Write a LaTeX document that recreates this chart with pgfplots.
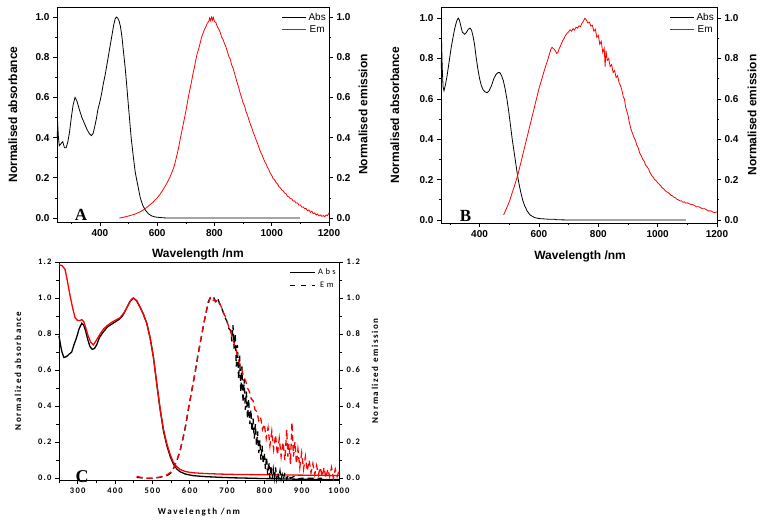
\documentclass[border=0pt]{standalone}
\usepackage{pgfplots}
\usepackage{pgfplotstable}
\pgfplotsset{compat=1.18}
\usepackage{fontspec}
\setmainfont{Liberation Sans}
\newfontfamily\serifb{Liberation Serif}
\newfontfamily\calfont[LetterSpace=18]{Carlito}
\newfontfamily\caltick[LetterSpace=15]{Carlito}
\newfontfamily\callegend[LetterSpace=30]{Carlito}

% ---------------- Panel A ----------------
\pgfplotstableread{
x y
251 0.40
252 0.48
255 0.40
258 0.36
264 0.37
270 0.38
276 0.35
282 0.35
288 0.38
294 0.43
300 0.50
306 0.56
313 0.60
320 0.58
328 0.54
337 0.50
346 0.47
355 0.44
363 0.42
370 0.41
376 0.42
381 0.45
387 0.49
393 0.54
400 0.58
406 0.62
412 0.67
418 0.71
424 0.76
430 0.81
436 0.86
442 0.91
448 0.96
453 0.99
457 1.00
462 0.995
467 0.98
472 0.95
477 0.90
482 0.83
488 0.75
493 0.67
497 0.60
503 0.50
509 0.40
517 0.30
523 0.23
527 0.20
534 0.15
541 0.10
549 0.065
558 0.040
570 0.020
581 0.010
593 0.005
605 0.003
620 0.001
633 0.000
700 0.000
800 0.000
900 0.000
1000 0.000
1098 0.000
}\absA
\pgfplotstableread{
x y
468 0.000
480 0.003
500 0.010
520 0.018
540 0.030
555 0.043
570 0.060
585 0.078
600 0.100
610 0.118
620 0.140
630 0.163
640 0.190
645 0.205
650 0.222
655 0.240
660 0.262
665 0.290
670 0.320
675 0.352
680 0.390
685 0.425
690 0.460
695 0.495
700 0.530
705 0.570
710 0.610
715 0.645
720 0.680
725 0.718
730 0.750
735 0.788
740 0.820
745 0.842
750 0.870
755 0.900
760 0.918
765 0.938
770 0.952
775 0.970
780 0.978
783 0.995
786 0.982
790 1.000
793 0.985
796 0.998
800 0.978
805 0.972
810 0.952
815 0.940
820 0.925
825 0.900
830 0.888
835 0.868
840 0.852
845 0.828
850 0.805
855 0.790
860 0.762
865 0.745
870 0.720
875 0.695
880 0.670
885 0.648
890 0.620
895 0.598
900 0.572
905 0.558
910 0.530
915 0.512
920 0.490
925 0.468
930 0.450
935 0.428
940 0.410
945 0.390
950 0.372
955 0.352
960 0.332
965 0.318
970 0.300
975 0.282
980 0.270
985 0.252
990 0.240
995 0.222
1000 0.212
1005 0.196
1010 0.190
1015 0.176
1020 0.170
1025 0.156
1030 0.150
1035 0.140
1040 0.135
1045 0.124
1050 0.120
1055 0.108
1060 0.105
1065 0.096
1070 0.095
1075 0.084
1080 0.085
1085 0.074
1090 0.075
1095 0.064
1100 0.065
1105 0.054
1110 0.055
1115 0.046
1120 0.047
1125 0.036
1130 0.040
1135 0.028
1140 0.034
1145 0.022
1150 0.025
1155 0.015
1160 0.020
1165 0.010
1170 0.015
1175 0.008
1180 0.012
1185 0.006
1190 0.015
1195 0.012
1200 0.025
}\emA

% ---------------- Panel B ----------------
\pgfplotstableread{
x y
271 0.75
272 0.88
274 0.76
277 0.66
280 0.64
285 0.67
290 0.71
295 0.76
300 0.81
305 0.86
310 0.90
315 0.94
320 0.97
324 0.99
328 1.00
332 0.99
337 0.96
342 0.93
350 0.92
356 0.93
362 0.945
368 0.95
373 0.94
378 0.91
383 0.87
388 0.81
394 0.75
400 0.70
406 0.665
412 0.645
418 0.635
425 0.63
432 0.64
440 0.665
448 0.70
455 0.72
462 0.73
468 0.73
474 0.715
480 0.69
486 0.65
492 0.60
498 0.54
504 0.47
510 0.40
516 0.34
522 0.28
528 0.22
534 0.17
540 0.13
546 0.095
552 0.07
560 0.045
570 0.025
585 0.012
600 0.007
630 0.004
655 0.003
660 0.001
700 0.000
800 0.000
900 0.000
1000 0.000
1095 0.000
}\absB
\pgfplotstableread{
x y
481 0.025
490 0.055
500 0.090
510 0.135
520 0.180
530 0.230
540 0.290
550 0.350
560 0.410
570 0.470
580 0.530
590 0.590
600 0.650
610 0.700
620 0.750
630 0.795
636 0.825
640 0.845
644 0.855
648 0.850
652 0.845
656 0.835
660 0.825
664 0.830
668 0.848
672 0.860
676 0.875
680 0.888
685 0.900
690 0.915
695 0.925
700 0.932
705 0.942
710 0.935
715 0.948
720 0.940
725 0.955
730 0.950
735 0.962
740 0.958
745 0.975
750 0.985
755 1.000
760 0.990
765 0.975
770 0.980
775 0.960
780 0.965
785 0.935
790 0.945
795 0.905
800 0.915
805 0.870
810 0.885
815 0.830
820 0.850
823 0.760
826 0.840
830 0.790
835 0.800
840 0.760
845 0.770
850 0.730
855 0.740
860 0.705
865 0.715
870 0.680
875 0.665
880 0.640
884 0.610
888 0.600
892 0.560
896 0.540
900 0.520
905 0.480
910 0.450
915 0.430
920 0.410
925 0.395
930 0.370
935 0.355
940 0.330
945 0.318
950 0.300
955 0.290
960 0.270
965 0.262
970 0.250
975 0.232
980 0.220
985 0.212
990 0.200
995 0.194
1000 0.185
1005 0.178
1010 0.170
1015 0.160
1020 0.155
1025 0.146
1030 0.140
1035 0.136
1040 0.130
1045 0.122
1050 0.120
1055 0.112
1060 0.110
1065 0.102
1070 0.100
1075 0.094
1080 0.095
1085 0.088
1090 0.090
1095 0.083
1100 0.085
1110 0.078
1120 0.075
1130 0.066
1140 0.065
1150 0.056
1160 0.055
1170 0.045
1180 0.045
1190 0.036
1200 0.040
}\emB

% ---------------- Panel C ----------------
\pgfplotstableread{
x y
250 0.79
254 0.74
258 0.70
263 0.67
270 0.675
278 0.69
284 0.70
290 0.74
297 0.78
304 0.83
311 0.86
316 0.85
321 0.82
327 0.77
333 0.73
339 0.715
345 0.72
351 0.74
358 0.78
368 0.81
380 0.84
395 0.86
410 0.88
420 0.90
430 0.94
440 0.98
449 1.00
458 0.985
467 0.95
476 0.91
485 0.86
494 0.78
503 0.67
512 0.52
521 0.38
530 0.26
539 0.18
548 0.12
556 0.08
565 0.052
575 0.035
590 0.022
610 0.014
640 0.009
680 0.005
720 0.002
760 0.000
800 -0.002
850 -0.004
900 -0.006
950 -0.007
1000 -0.008
}\absCk
\pgfplotstableread{
x y
250 1.185
258 1.18
266 1.16
272 1.10
279 1.02
286 0.95
293 0.89
300 0.875
306 0.875
311 0.88
316 0.87
321 0.84
328 0.79
335 0.755
342 0.74
350 0.765
360 0.80
370 0.83
381 0.85
395 0.87
413 0.89
425 0.92
435 0.96
443 0.99
449 1.00
458 0.985
467 0.95
476 0.91
485 0.86
494 0.78
503 0.67
512 0.525
521 0.385
530 0.27
539 0.19
548 0.13
556 0.09
565 0.065
575 0.048
590 0.036
610 0.030
640 0.026
680 0.023
720 0.021
800 0.019
900 0.017
1000 0.015
}\absCr
\pgfplotstableread{
x y
458 0.005
480 0.000
500 0.000
520 0.005
540 0.015
550 0.030
558 0.060
566 0.100
574 0.150
582 0.220
590 0.300
598 0.400
606 0.490
614 0.580
622 0.680
630 0.770
638 0.860
645 0.930
650 0.980
655 1.000
660 0.990
665 1.000
670 0.980
675 1.000
680 0.970
685 0.950
690 0.920
695 0.890
700 0.870
705 0.830
710 0.820
713 0.760
716 0.850
719 0.720
722 0.800
725 0.620
728 0.740
731 0.550
734 0.680
737 0.480
740 0.620
743 0.420
746 0.550
749 0.380
752 0.480
755 0.330
758 0.440
761 0.300
764 0.380
767 0.260
770 0.330
773 0.220
776 0.300
779 0.180
782 0.260
785 0.140
788 0.210
791 0.100
794 0.180
797 0.080
800 0.140
803 0.050
806 0.120
809 0.020
812 0.090
815 0.000
818 0.070
821 -0.005
824 0.050
827 0.000
830 0.060
833 -0.005
836 0.030
839 0.000
842 0.040
845 -0.005
848 0.020
851 -0.005
855 0.030
860 -0.005
865 0.020
870 0.000
880 0.010
890 -0.005
900 0.000
920 0.000
940 0.000
955 0.000
}\emCk
\pgfplotstableread{
x y
458 0.010
480 0.000
500 0.000
520 0.005
540 0.020
550 0.035
558 0.060
566 0.100
574 0.150
582 0.220
590 0.300
598 0.400
606 0.490
614 0.580
622 0.680
630 0.770
638 0.860
645 0.930
650 0.970
655 1.000
660 0.980
665 0.990
670 0.980
675 0.990
680 0.970
685 0.950
690 0.920
695 0.900
700 0.870
705 0.840
710 0.810
715 0.780
720 0.740
725 0.710
730 0.660
735 0.630
740 0.600
745 0.560
750 0.540
755 0.500
760 0.480
765 0.440
770 0.430
775 0.380
780 0.370
785 0.320
790 0.340
795 0.270
800 0.300
805 0.220
810 0.280
815 0.180
820 0.260
825 0.160
830 0.240
835 0.130
840 0.220
845 0.120
850 0.200
855 0.100
860 0.270
863 0.120
866 0.190
870 0.080
874 0.310
878 0.120
882 0.200
886 0.080
890 0.160
895 0.060
900 0.140
905 0.050
910 0.120
915 0.040
920 0.100
925 0.030
930 0.080
935 0.020
940 0.070
945 0.020
950 0.060
955 0.010
960 0.060
965 0.000
970 0.050
975 0.010
980 0.060
985 0.000
990 0.050
995 0.010
1000 0.040
}\emCr

\pgfplotsset{
  base/.style={
    scale only axis, anchor=south west, clip=false,
    tick align=outside,
    major tick length=4pt, minor tick length=2.2pt,
    every tick/.style={black, line width=0.6pt},
    axis line style={line width=0.7pt},
    /pgf/number format/assume math mode=true,
    yticklabel={\bfseries\pgfmathprintnumber[fixed,fixed zerofill,precision=1,assume math mode=true]{\tick}},
    xticklabel={\bfseries\pgfmathprintnumber[fixed,precision=0,1000 sep={},assume math mode=true]{\tick}},
  },
  ab/.style={
    base,
    xtick={400,600,800,1000,1200},
    minor xtick={300,500,700,900,1100},
    ytick={0,0.2,0.4,0.6,0.8,1.0},
    minor ytick={0.1,0.3,0.5,0.7,0.9},
    tick label style={font=\bfseries\fontsize{10}{12}\selectfont},
    label style={font=\bfseries\fontsize{12}{14}\selectfont},
    legend style={draw=none, fill=none, font=\fontsize{10}{11}\selectfont,
      at={(1,0.985)}, anchor=north east, inner sep=1pt, row sep=-0.5pt},
    legend image code/.code={\draw[#1] (0pt,0pt) -- (24pt,0pt);},
  },
  cc/.style={
    base,
    xtick={300,400,500,600,700,800,900,1000},
    minor xtick={250,350,450,550,650,750,850,950},
    ytick={0,0.2,0.4,0.6,0.8,1.0,1.2},
    minor ytick={0.1,0.3,0.5,0.7,0.9,1.1},
    minor tick length=3pt,
    tick label style={font=\caltick\bfseries\fontsize{8.5}{10}\selectfont},
    label style={font=\calfont\bfseries\fontsize{9}{11}\selectfont},
    legend style={draw=none, fill=none, font=\callegend\fontsize{8.5}{10}\selectfont,
      at={(1,0.985)}, anchor=north east, inner sep=1pt, row sep=2pt},
    legend image code/.code={\draw[#1] (0pt,0pt) -- (25pt,0pt);},
  },
}

\begin{document}
\begin{tikzpicture}[x=1pt,y=1pt]
\useasboundingbox (0,0) rectangle (763,525);

% ===== Panel A =====
\begin{axis}[ab, at={(57pt,303pt)}, width=272pt, height=215pt,
  xmin=250, xmax=1200, ymin=-0.02, ymax=1.05,
  xtick pos=bottom, ytick pos=left,
  xlabel={Wavelength /nm}, ylabel={Normalised absorbance},
  xlabel style={at={(axis description cs:0.518,-0.153)}, anchor=center},
  ylabel style={at={(axis description cs:-0.162,0.5)}, anchor=center}]
\addplot[black, line width=0.8pt] table[x=x,y=y] {\absA};
\node[font=\serifb\bfseries\fontsize{17}{17}\selectfont, anchor=base] at (axis cs:334,-0.015) {A};
\end{axis}
\begin{axis}[ab, at={(57pt,303pt)}, width=272pt, height=215pt,
  xmin=250, xmax=1200, ymin=-0.02, ymax=1.05,
  axis x line=none, axis y line*=right, ytick pos=right,
  ylabel={Normalised emission},
  ylabel style={at={(axis description cs:1.125,0.5)}, anchor=center, rotate=0}]
\addlegendimage{black, line width=0.8pt}
\addlegendentry{Abs}
\addplot[red, line width=0.8pt] table[x=x,y=y] {\emA};
\addlegendentry{Em}
\end{axis}

% ===== Panel B =====
\begin{axis}[ab, at={(441pt,302pt)}, width=276pt, height=216pt,
  xmin=270, xmax=1200, ymin=-0.015, ymax=1.055,
  xtick pos=bottom, ytick pos=left,
  xlabel={Wavelength /nm}, ylabel={Normalised absorbance},
  xlabel style={at={(axis description cs:0.504,-0.153)}, anchor=center},
  ylabel style={at={(axis description cs:-0.167,0.5)}, anchor=center}]
\addplot[black, line width=0.8pt] table[x=x,y=y] {\absB};
\node[font=\serifb\bfseries\fontsize{17}{17}\selectfont, anchor=base] at (axis cs:353,-0.01) {B};
\end{axis}
\begin{axis}[ab, at={(441pt,302pt)}, width=276pt, height=216pt,
  xmin=270, xmax=1200, ymin=-0.015, ymax=1.055,
  axis x line=none, axis y line*=right, ytick pos=right,
  ylabel={Normalised emission},
  ylabel style={at={(axis description cs:1.127,0.5)}, anchor=center}]
\addlegendimage{black, line width=0.8pt}
\addlegendentry{Abs}
\addplot[red, line width=0.8pt] table[x=x,y=y] {\emB};
\addlegendentry{Em}
\end{axis}

% ===== Panel C =====
\begin{axis}[cc, at={(59pt,45pt)}, width=280pt, height=218pt,
  xmin=250, xmax=1000, ymin=-0.01, ymax=1.2,
  xtick pos=bottom, ytick pos=left,
  xlabel={Wavelength /nm}, ylabel={Normalized absorbance},
  xlabel style={at={(axis description cs:0.5,-0.147)}, anchor=center},
  ylabel style={at={(axis description cs:-0.146,0.5)}, anchor=center}]
\addplot[black, line width=1.3pt] table[x=x,y=y] {\absCk};
\addplot[red, line width=1.3pt] table[x=x,y=y] {\absCr};
\node[font=\serifb\bfseries\fontsize{18}{18}\selectfont, anchor=base] at (axis cs:312,-0.022) {C};
\end{axis}
\begin{axis}[cc, at={(59pt,45pt)}, width=280pt, height=218pt,
  xmin=250, xmax=1000, ymin=-0.01, ymax=1.2,
  axis x line=none, axis y line*=right, ytick pos=right,
  ylabel={Normalized emission},
  ylabel style={at={(axis description cs:1.129,0.5)}, anchor=center}]
\addlegendimage{black, line width=1.3pt}
\addlegendentry{Abs}
\addlegendimage{black, line width=1.3pt, dash pattern=on 5pt off 6pt}
\addlegendentry{Em}
\addplot[black, line width=1.3pt, dash pattern=on 6pt off 4pt, forget plot] table[x=x,y=y] {\emCk};
\addplot[red, line width=1.3pt, dash pattern=on 6pt off 4pt, forget plot] table[x=x,y=y] {\emCr};
\end{axis}
\end{tikzpicture}
\end{document}
